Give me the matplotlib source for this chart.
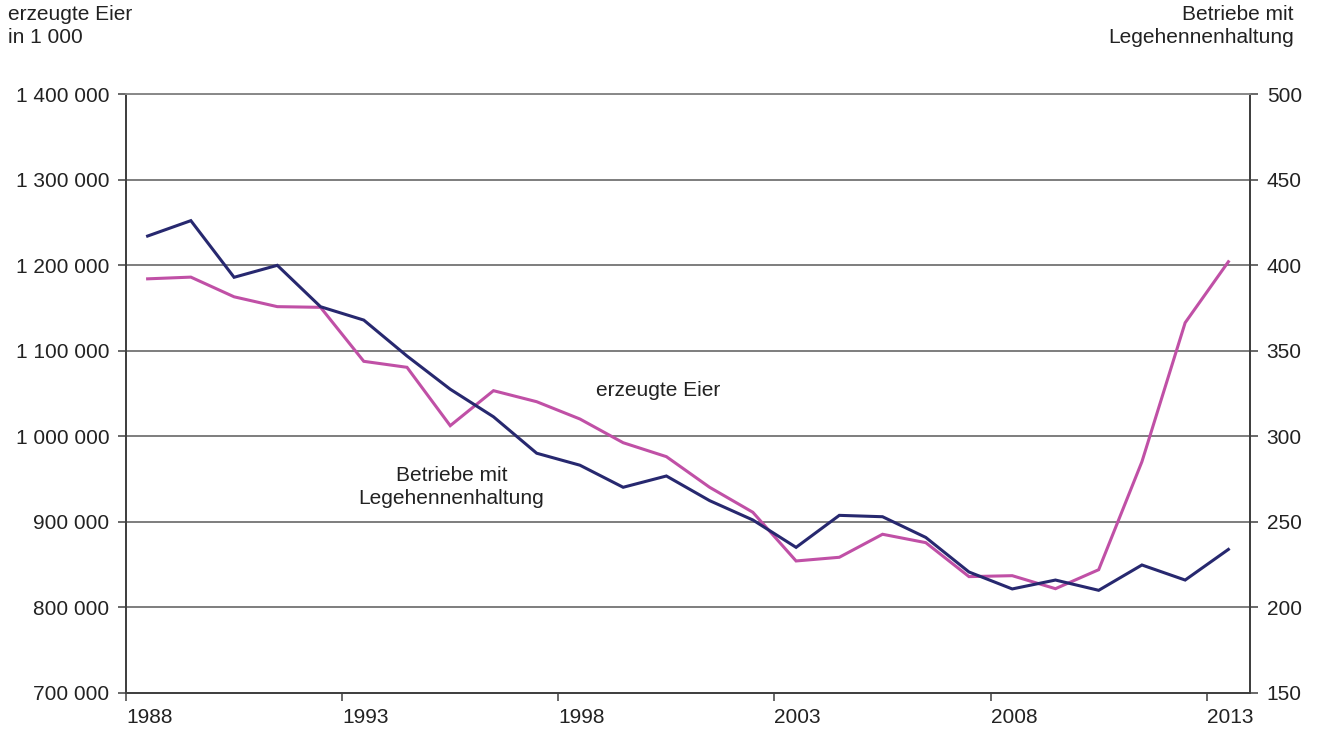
import matplotlib
matplotlib.use("Agg")
import matplotlib.pyplot as plt
from matplotlib.ticker import FuncFormatter

plt.rcParams['font.family'] = ['Liberation Sans', 'DejaVu Sans']

years = list(range(1988, 2014))
eier = [1184000, 1186000, 1163000, 1151500, 1150700, 1087600, 1080600, 1012400,
        1053300, 1040400, 1020200, 992500, 976200, 940400, 911200, 854300,
        858600, 885500, 875700, 836000, 837100, 821900, 844100, 970300,
        1132700, 1204000]
betriebe = [417.0, 426.0, 392.9, 399.9, 375.7, 367.9, 346.9, 327.5,
            311.4, 290.1, 283.1, 270.2, 276.8, 262.4, 251.1, 235.1,
            253.8, 253.0, 240.9, 220.7, 210.8, 216.0, 210.0, 224.8,
            216.0, 233.9]
left_ticks = list(range(700000, 1400001, 100000))
right_ticks = list(range(150, 501, 50))
x_tick_years = [1988, 1993, 1998, 2003, 2008, 2013]

pink = '#C050A6'
navy = '#27286F'
axcol = '#404040'
fs = 15

fig = plt.figure(figsize=(13.22, 7.36), dpi=100)
ax = fig.add_axes([126/1322, 1-693/736, (1250-126)/1322, (693-94)/736])
ax2 = ax.twinx()

ax.set_ylim(700000, 1400000)
ax2.set_ylim(150, 500)
ax.set_xlim(years[0]-0.5, years[-1]+0.5)

for v in left_ticks[1:]:
    ax.axhline(v, color='#5a5a5a', lw=1.1, zorder=1)

ax.plot(years, eier, color=pink, lw=2.2, zorder=3, solid_joinstyle='miter')
ax2.plot(years, betriebe, color=navy, lw=2.2, zorder=3, solid_joinstyle='miter')

fmt = FuncFormatter(lambda v, p: f"{int(v):,}".replace(",", " "))
ax.set_yticks(left_ticks)
ax.yaxis.set_major_formatter(fmt)
ax2.set_yticks(right_ticks)

ax.set_xticks([y-0.5 for y in x_tick_years])
ax.set_xticklabels([str(y) for y in x_tick_years], ha='left')

for a in (ax, ax2):
    a.tick_params(axis='both', direction='out', length=6, width=1.1, colors=axcol,
                  labelcolor='#222222', labelsize=fs, pad=6)
    for s in a.spines.values():
        s.set_color(axcol)
        s.set_linewidth(1.3)
    a.spines['top'].set_color('#8a8a8a')
ax.tick_params(axis='x', pad=5)

ax.text(1999.8, 1054000, 'erzeugte Eier', ha='center', va='center', fontsize=fs, color='#222222')
ax.text(1995.03, 940700, 'Betriebe mit\nLegehennenhaltung', ha='center', va='center',
        fontsize=fs, color='#222222', linespacing=1.25)

fig.text(8/1322, 1-5/736, 'erzeugte Eier\nin 1 000', ha='left', va='top', fontsize=fs,
         color='#222222', linespacing=1.25)
fig.text(1294/1322, 1-5/736, 'Betriebe mit\nLegehennenhaltung', ha='right', va='top',
         fontsize=fs, color='#222222', linespacing=1.25, multialignment='right')

fig.savefig('out.png', dpi=100)
